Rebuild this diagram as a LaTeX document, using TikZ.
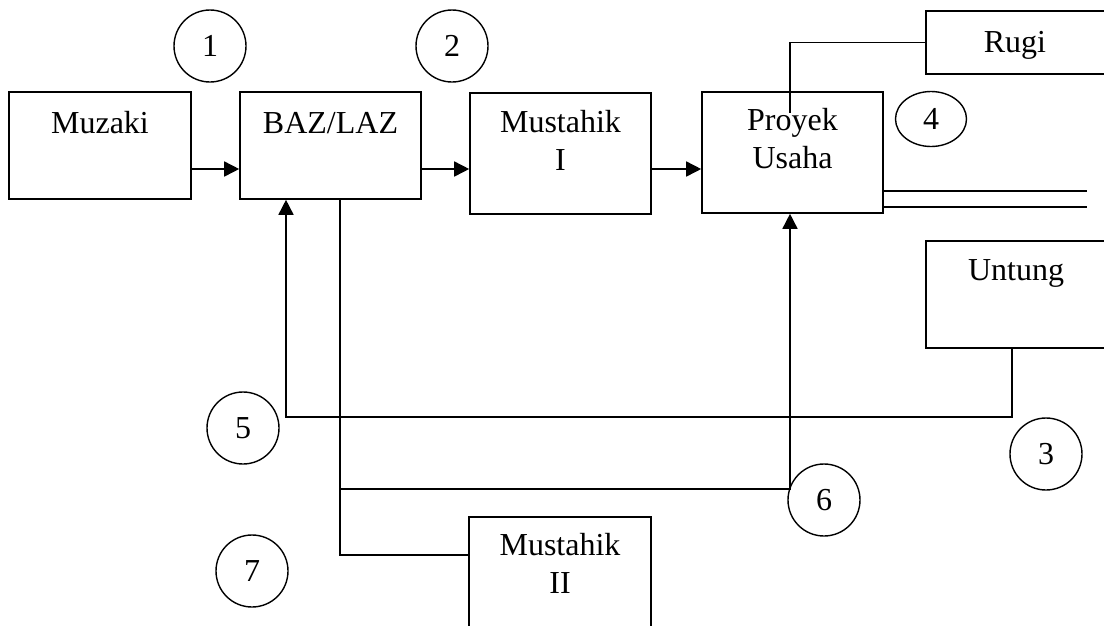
\documentclass[tikz,border=0pt]{standalone}
\usepackage{fontspec}
\setmainfont{Liberation Serif}
\usetikzlibrary{arrows.meta,shapes.geometric}
\begin{document}
\begin{tikzpicture}[x=1pt,y=1pt,
  box/.style={draw,line width=1.6pt,rectangle,inner sep=0pt},
  lbl/.style={anchor=base,align=center,inner sep=0pt,font=\fontsize{32}{38}\selectfont},
  num/.style={draw,line width=1.4pt,circle,minimum size=72pt,inner sep=0pt,font=\fontsize{32}{38}\selectfont},
  conn/.style={line width=1.6pt},
  arr/.style={line width=1.6pt,-{Triangle[length=15pt,width=15pt]}}]
\useasboundingbox (0,0) rectangle (1104,-625);
\clip (0,0) rectangle (1104,-625);
% boxes
\node[box,minimum width=182pt,minimum height=107pt] (muz) at (100,-145.5) {};
\node[box,minimum width=181pt,minimum height=107pt] (baz) at (330.5,-145.5) {};
\node[box,minimum width=181pt,minimum height=121pt] (m1) at (560.5,-153.5) {};
\node[box,minimum width=181pt,minimum height=121pt] (proy) at (792.5,-152.5) {};
\node[box,minimum width=184pt,minimum height=63pt] (rugi) at (1018,-42.5) {};
\node[box,minimum width=184pt,minimum height=107pt] (untung) at (1018,-294.5) {};
\node[box,minimum width=182pt,minimum height=123pt] (m2) at (560,-578.5) {};
% texts
\node[lbl] at (100,-133) {Muzaki};
\node[lbl] at (330.5,-133) {BAZ/LAZ};
\node[lbl] at (560.5,-170) {Mustahik\\I};
\node[lbl] at (792.5,-168) {Proyek\\Usaha};
\node[lbl] at (1015,-52) {Rugi};
\node[lbl] at (1016,-280) {Untung};
\node[lbl] at (560,-593) {Mustahik\\II};
% circles
\node[num] (c1) at (210,-46) {1};
\node[num] (c2) at (452,-46) {2};
\node[draw,line width=1.4pt,ellipse,minimum width=71pt,minimum height=55pt,inner sep=0pt,font=\fontsize{32}{38}\selectfont] (c4) at (931,-119) {4};
\node[num] (c5) at (243,-428) {5};
\node[num] (c3) at (1046,-454) {3};
\node[num] (c6) at (824,-500) {6};
\node[num] (c7) at (252,-571) {7};
% coordinates
\coordinate (ya) at (0,-169);
\coordinate (re) at (790,-113);
\coordinate (d1) at (1087,-191);
\coordinate (d2) at (1087,-207);
\coordinate (u1) at (1012,-417);
\coordinate (b5) at (286,-417);
\coordinate (b6) at (340,-555);
\coordinate (j1) at (340,-489);
\coordinate (j2) at (790,-489);
% connectors
\draw[arr] (muz.east |- ya) -- (baz.west |- ya);
\draw[arr] (baz.east |- ya) -- (m1.west |- ya);
\draw[arr] (m1.east |- ya) -- (proy.west |- ya);
\draw[conn] (rugi.west) -| (re);
\draw[conn] (proy.east |- d1) -- (d1);
\draw[conn] (proy.east |- d2) -- (d2);
\draw[arr] (untung.south -| u1) -- (u1) -- (b5) -- (baz.south -| b5);
\draw[conn] (baz.south -| b6) -- (b6) -- (m2.west |- b6);
\draw[arr] (j1) -- (j2) -- (proy.south -| j2);
\end{tikzpicture}
\end{document}
